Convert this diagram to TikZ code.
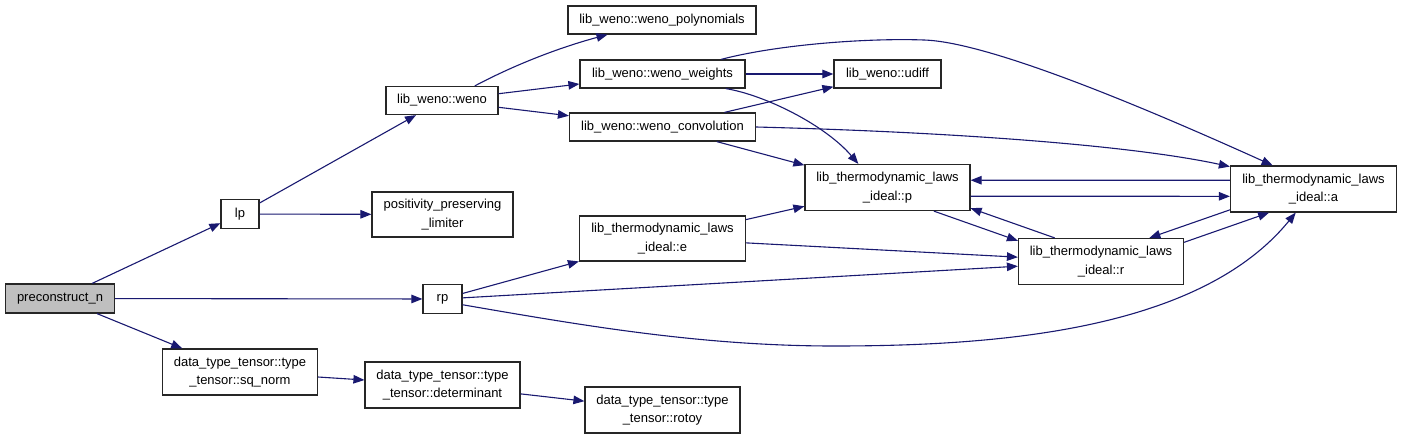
\documentclass[tikz,border=0pt]{standalone}
\usepackage{fontspec}
\setmainfont{Liberation Sans}
\usepackage{tikz}
\usetikzlibrary{arrows.meta}
\definecolor{callnavy}{HTML}{191970}
\definecolor{rootgray}{HTML}{BFBFBF}

\begin{document}
\begin{tikzpicture}[x=1pt, y=-1pt, >={Triangle[length=11pt,width=8.5pt]},
  fn/.style={draw=black!85, line width=1.2pt, fill=white, inner sep=0pt, align=center,
    font=\fontsize{13}{18.5}\selectfont},
  call/.style={->, draw=callnavy, line width=1.1pt}]
  \useasboundingbox (0,0) rectangle (1403,436);
  % functions
  \node[fn, fill=rootgray, minimum width=109pt, minimum height=29pt] (root) at (60,298.5) {preconstruct\_n};
  \node[fn, minimum width=38pt, minimum height=29pt] (lp) at (240,214) {lp};
  \node[fn, minimum width=39pt, minimum height=29pt] (rp) at (442.5,299) {rp};
  \node[fn, minimum width=112pt, minimum height=28pt] (weno) at (442,100.5) {lib\_weno::weno};
  \node[fn, minimum width=141pt, minimum height=45pt] (posit) at (442.5,214.5) {positivity\_preserving\\\_limiter};
  \node[fn, minimum width=155pt, minimum height=46pt] (sqnorm) at (240,372) {data\_type\_tensor::type\\\_tensor::sq\_norm};
  \node[fn, minimum width=155pt, minimum height=46pt] (determ) at (442.5,385) {data\_type\_tensor::type\\\_tensor::determinant};
  \node[fn, minimum width=155pt, minimum height=46pt] (rotoy) at (662.5,410) {data\_type\_tensor::type\\\_tensor::rotoy};
  \node[fn, minimum width=188pt, minimum height=28pt] (wpoly) at (662,20) {lib\_weno::weno\_polynomials};
  \node[fn, minimum width=165pt, minimum height=28pt] (wweights) at (662.5,74) {lib\_weno::weno\_weights};
  \node[fn, minimum width=186pt, minimum height=28pt] (wconv) at (662.5,127) {lib\_weno::weno\_convolution};
  \node[fn, minimum width=166pt, minimum height=45pt] (thE) at (662.5,238.5) {lib\_thermodynamic\_laws\\\_ideal::e};
  \node[fn, minimum width=107pt, minimum height=28pt] (udiff) at (887.5,74) {lib\_weno::udiff};
  \node[fn, minimum width=165pt, minimum height=46pt] (thP) at (887.5,187.5) {lib\_thermodynamic\_laws\\\_ideal::p};
  \node[fn, minimum width=165pt, minimum height=46pt] (thR) at (1101,261.5) {lib\_thermodynamic\_laws\\\_ideal::r};
  \node[fn, minimum width=166pt, minimum height=46pt] (thA) at (1313.5,189) {lib\_thermodynamic\_laws\\\_ideal::a};
  % straight calls
  \foreach \a/\b in {root/lp, root/rp, root/sqnorm, lp/weno, lp/posit, weno/wweights, weno/wconv,
      wweights/udiff, wconv/udiff, wconv/thP, rp/thE, rp/thR, thE/thP, thE/thR, sqnorm/determ, determ/rotoy}
    \draw[call] (\a) -- (\b);
  % bent calls
  \draw[call] (weno.24) .. controls (520,62) and (565,46) .. (wpoly.195);
  \draw[call] (wweights.-13) .. controls (765,95) and (825,125) .. (thP.141);
  \draw[call] (wweights.14) .. controls (780,44) and (870,38) .. (924,40)
    .. controls (990,42) and (1150,110) .. (thA.150);
  \draw[call] (wconv.east) .. controls (950,132) and (1130,145) .. (thA.165);
  \draw[call] (rp.-16) .. controls (580,325) and (700,346) .. (834,346)
    .. controls (1000,346) and (1200,330) .. (thA.233);
  % calls among the thermodynamic laws
  \draw[call] (thA.174) -- (thP.5);
  \draw[call] (thP.-6) -- (thA.185);
  \draw[call] (thP.-27) -- (thR.166);
  \draw[call] (thR.153) -- (thP.-14);
  \draw[call] (thR.13) -- (thA.208);
  \draw[call] (thA.194) -- (thR.26);
\end{tikzpicture}
\end{document}
